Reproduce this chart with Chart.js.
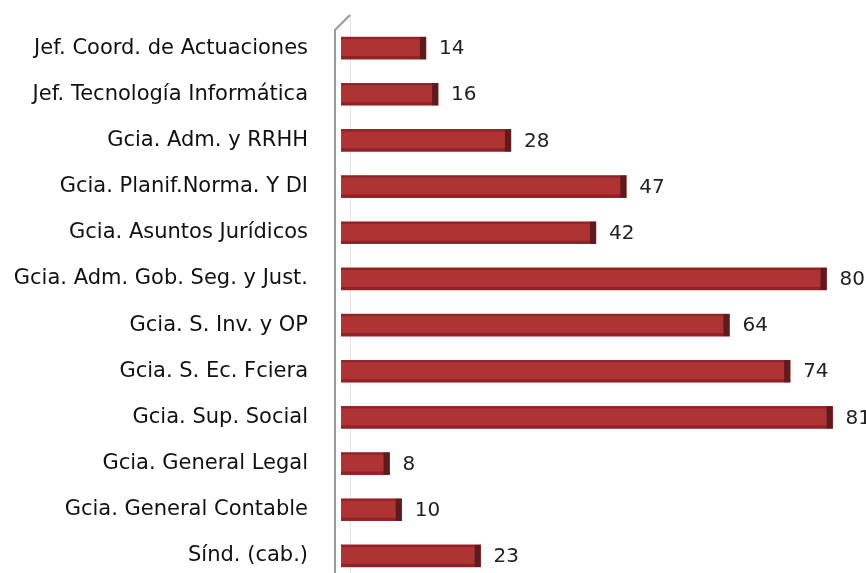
<!DOCTYPE html>
<html><head><meta charset="utf-8">
<script src="https://cdn.jsdelivr.net/npm/chart.js@4/dist/chart.umd.min.js"></script>
<style>html,body{margin:0;padding:0;background:#fff;overflow:hidden;width:866px;height:573px}canvas{display:block}</style>
</head><body><canvas id="c" width="866" height="600"></canvas>
<script>
const categories = ["Jef. Coord. de Actuaciones","Jef. Tecnología Informática","Gcia. Adm. y RRHH","Gcia. Planif.Norma. Y DI","Gcia. Asuntos Jurídicos","Gcia. Adm. Gob. Seg. y Just.","Gcia. S. Inv. y OP","Gcia. S. Ec. Fciera","Gcia. Sup. Social","Gcia. General Legal","Gcia. General Contable","Sínd. (cab.)"];
const values = [14,16,28,47,42,80,64,74,81,8,10,23];

const FONT = '"DejaVu Sans", sans-serif';

const wallPlugin = {
  id: 'wall',
  beforeDatasetsDraw(chart) {
    const ctx = chart.ctx, a = chart.chartArea;
    ctx.save();
    ctx.strokeStyle = '#e4e4e4';
    ctx.lineWidth = 1;
    ctx.beginPath();
    ctx.moveTo(a.left + 9.5, a.top - 10);
    ctx.lineTo(a.left + 9.5, a.bottom + 40);
    ctx.stroke();
    ctx.strokeStyle = '#9a9a9a';
    ctx.lineWidth = 2;
    ctx.beginPath();
    ctx.moveTo(a.left - 6, a.bottom + 40);
    ctx.lineTo(a.left - 6, a.top + 5);
    ctx.lineTo(a.left + 9, a.top - 10);
    ctx.stroke();
    ctx.restore();
  }
};

const capPlugin = {
  id: 'caps',
  afterDatasetsDraw(chart) {
    const ctx = chart.ctx;
    const meta = chart.getDatasetMeta(0);
    ctx.save();
    meta.data.forEach((bar, i) => {
      const h = bar.height;
      const top = bar.y - h/2;
      ctx.fillStyle = 'rgba(120,20,25,0.55)';
      ctx.fillRect(bar.base, top, bar.x - bar.base, 2);
      ctx.fillRect(bar.base, top + h - 3, bar.x - bar.base, 3);
      ctx.fillStyle = '#5e1a1c';
      ctx.fillRect(bar.x - 6, top, 6, h);
      ctx.fillStyle = '#222';
      ctx.font = '20px ' + FONT;
      ctx.textBaseline = 'middle';
      ctx.textAlign = 'left';
      ctx.fillText(String(values[i]), bar.x + 13, bar.y + 1);
    });
    ctx.restore();
  }
};

new Chart(document.getElementById('c'), {
  type: 'bar',
  data: { labels: categories, datasets: [{ data: values, backgroundColor: '#ad3335', barThickness: 22, borderWidth: 0 }] },
  options: {
    indexAxis: 'y', responsive: false, animation: false,
    layout: { padding: { top: 25, bottom: 21, left: 0, right: 0 } },
    plugins: { legend: { display: false }, tooltip: { enabled: false } },
    scales: {
      x: { display: false, min: 0, max: 86.5 },
      y: {
        afterFit(scale) { scale.width = 341; },
        grid: { display: false, drawTicks: true, tickLength: 33, tickColor: 'rgba(0,0,0,0)' },
        border: { display: false },
        ticks: { color: '#111', padding: 0, font: { family: FONT, size: 21 } }
      }
    }
  },
  plugins: [wallPlugin, capPlugin]
});
</script></body></html>
